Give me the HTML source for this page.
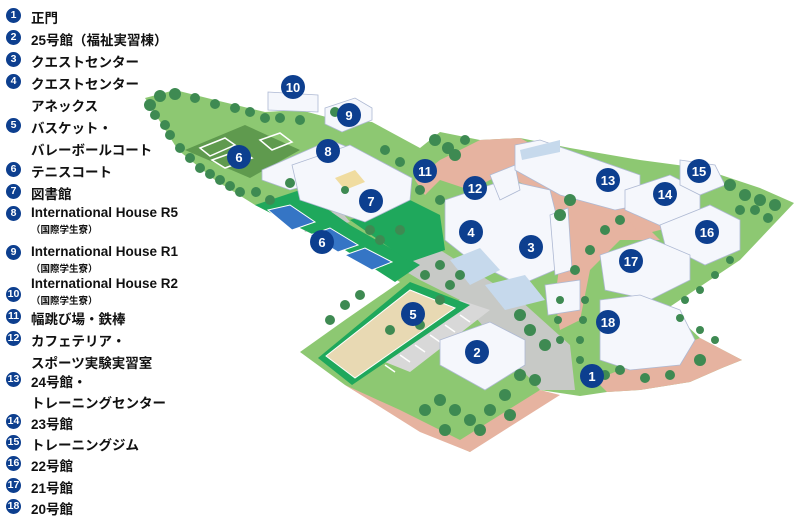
<!DOCTYPE html>
<html><head><meta charset="utf-8">
<style>
body{margin:0;width:794px;height:515px;background:#fff;overflow:hidden;position:relative;font-family:"Liberation Sans","Noto Sans CJK JP",sans-serif;}
.it{position:absolute;left:0;font-weight:bold;font-size:13.5px;color:#111;white-space:nowrap}
.n{position:absolute;left:6px;top:1px;width:15px;height:15px;border-radius:50%;background:#0d3f8f;color:#fff;font-size:10.5px;line-height:15px;text-align:center;font-weight:bold}
.t{position:absolute;left:31px}
.s{position:absolute;left:31px;font-size:9.5px}
svg{position:absolute;left:0;top:0}
</style></head><body>
<svg width="794" height="515" viewBox="0 0 794 515">
<polygon fill="#8dc872" points="145,98 175,90 215,100 265,112 300,110 330,118 372,122 420,148 440,132 480,140 520,138 570,148 640,160 700,168 760,188 794,203 740,260 668,308 700,338 742,360 722,368 690,382 640,390 607,392 580,396 540,390 470,452 420,430 345,385 300,352 345,320 400,282 345,250 300,228 255,205 215,180 178,150"/>
<polygon fill="#e6b3a0" points="480,140 520,138 580,170 620,200 660,240 620,240 590,270 580,320 560,330 555,300 560,260 540,190 500,175 470,190 440,180 425,195 415,180 440,160"/>
<polygon fill="#e6b3a0" points="610,195 650,205 680,225 640,235"/>
<polygon fill="#e6b3a0" points="345,385 400,410 460,440 540,390 560,395 470,452 420,432"/>
<polygon fill="#e6b3a0" points="595,380 700,338 742,360 722,368 690,382 640,390 607,392"/>
<polygon fill="#c7c9c6" points="395,265 440,250 520,300 570,345 575,390 540,390 500,345 460,300 420,280"/>
<polygon fill="#c7c9c6" points="300,218 340,210 350,222 305,232"/>
<polygon fill="#d8d8d8" points="380,360 460,300 490,310 410,372"/>
<polygon fill="#1fa85c" points="255,205 300,190 350,225 420,265 395,282 345,250 300,228"/>
<polygon fill="#1fa85c" points="350,220 410,200 440,215 445,250 410,262"/>
<polygon fill="#5f9a4e" points="185,150 245,125 300,150 250,178"/>
<g stroke="#fff" stroke-width="1.5" fill="none">
<polygon points="200,148 225,138 235,145 210,156"/><polygon points="212,160 240,150 252,158 225,168"/><polygon points="260,140 280,133 292,142 272,150"/>
</g>
<g fill="#3575c5" stroke="#fff" stroke-width="1">
<polygon points="268,210 290,205 315,222 292,230"/><polygon points="310,235 330,228 358,245 338,252"/><polygon points="345,255 365,248 392,262 372,270"/>
</g>
<polygon fill="#1fa85c" points="318,358 410,282 470,305 352,385"/>
<polygon fill="#e8d9b3" stroke="#fff" points="326,356 410,290 455,308 355,378"/>
<g stroke="#fff" stroke-width="1.5"><line x1="385" y1="365" x2="395" y2="372"/><line x1="400" y1="355" x2="410" y2="362"/><line x1="415" y1="345" x2="425" y2="352"/><line x1="430" y1="335" x2="440" y2="342"/><line x1="445" y1="325" x2="455" y2="332"/><line x1="460" y1="315" x2="470" y2="322"/></g>
<g fill="#f5f7fc" stroke="#aeb9d3" stroke-width="0.8">
<polygon points="268,92 318,95 318,112 268,110"/>
<polygon points="325,108 355,98 372,108 372,120 342,132 325,124"/>
<polygon points="262,170 330,140 355,150 345,175 290,190 262,180"/>
<polygon points="292,165 350,145 412,178 410,200 365,222 300,200"/>
<polygon points="445,200 505,180 550,190 565,250 555,270 520,285 470,260 445,240"/>
<polygon points="550,215 568,208 572,270 555,275"/>
<polygon points="490,175 515,165 520,190 500,200"/>
<polygon points="515,145 540,140 640,175 640,205 615,210 560,195 515,170"/>
<polygon points="625,190 670,175 700,190 700,220 670,230 625,210"/>
<polygon points="680,160 715,165 725,185 700,195 680,185"/>
<polygon points="660,225 710,205 740,220 740,250 705,265 665,245"/>
<polygon points="600,255 650,238 690,255 690,280 650,300 605,290"/>
<polygon points="600,300 640,295 680,310 695,340 680,365 630,370 600,360"/>
<polygon points="545,285 580,280 580,310 548,315"/>
<polygon points="440,340 490,322 525,340 525,365 485,390 440,365"/>
</g>
<g fill="#c6d9ec"><polygon points="450,260 480,248 500,270 470,285"/><polygon points="485,285 525,275 545,300 505,310"/><polygon points="520,150 560,140 560,152 522,160"/></g>
<polygon fill="#f0dca0" points="335,178 355,170 365,182 345,190"/>
<g fill="#3e8a52">
<circle cx="150" cy="105" r="6"/><circle cx="160" cy="96" r="6"/><circle cx="175" cy="94" r="6"/><circle cx="195" cy="98" r="5"/><circle cx="215" cy="104" r="5"/><circle cx="235" cy="108" r="5"/><circle cx="165" cy="125" r="5"/><circle cx="180" cy="148" r="5"/><circle cx="200" cy="168" r="5"/><circle cx="220" cy="180" r="5"/><circle cx="240" cy="192" r="5"/><circle cx="256" cy="192" r="5"/><circle cx="270" cy="200" r="5"/><circle cx="290" cy="183" r="5"/>
<circle cx="155" cy="115" r="5"/><circle cx="170" cy="135" r="5"/><circle cx="190" cy="158" r="5"/><circle cx="210" cy="174" r="5"/><circle cx="230" cy="186" r="5"/><circle cx="250" cy="112" r="5"/><circle cx="265" cy="118" r="5"/><circle cx="280" cy="118" r="5"/><circle cx="300" cy="120" r="5"/><circle cx="345" cy="190" r="4"/><circle cx="370" cy="230" r="5"/><circle cx="380" cy="240" r="5"/><circle cx="400" cy="230" r="5"/>
<circle cx="335" cy="112" r="5"/><circle cx="385" cy="150" r="5"/><circle cx="400" cy="162" r="5"/><circle cx="435" cy="140" r="6"/><circle cx="448" cy="148" r="6"/><circle cx="465" cy="140" r="5"/><circle cx="440" cy="200" r="5"/><circle cx="455" cy="155" r="6"/><circle cx="420" cy="190" r="5"/>
<circle cx="570" cy="200" r="6"/><circle cx="560" cy="215" r="6"/><circle cx="620" cy="220" r="5"/><circle cx="605" cy="230" r="5"/><circle cx="575" cy="270" r="5"/><circle cx="590" cy="250" r="5"/>
<circle cx="730" cy="185" r="6"/><circle cx="745" cy="195" r="6"/><circle cx="760" cy="200" r="6"/><circle cx="775" cy="205" r="6"/><circle cx="740" cy="210" r="5"/><circle cx="730" cy="260" r="4"/><circle cx="715" cy="275" r="4"/><circle cx="700" cy="290" r="4"/><circle cx="685" cy="300" r="4"/><circle cx="680" cy="318" r="4"/><circle cx="700" cy="330" r="4"/><circle cx="715" cy="340" r="4"/><circle cx="755" cy="210" r="5"/><circle cx="768" cy="218" r="5"/>
<circle cx="585" cy="300" r="4"/><circle cx="583" cy="320" r="4"/><circle cx="580" cy="340" r="4"/><circle cx="580" cy="360" r="4"/><circle cx="560" cy="300" r="4"/><circle cx="558" cy="320" r="4"/><circle cx="560" cy="340" r="4"/>
<circle cx="530" cy="330" r="6"/><circle cx="545" cy="345" r="6"/><circle cx="520" cy="375" r="6"/><circle cx="505" cy="395" r="6"/><circle cx="490" cy="410" r="6"/><circle cx="470" cy="420" r="6"/><circle cx="455" cy="410" r="6"/><circle cx="440" cy="400" r="6"/><circle cx="425" cy="410" r="6"/><circle cx="445" cy="430" r="6"/><circle cx="535" cy="380" r="6"/><circle cx="510" cy="415" r="6"/><circle cx="480" cy="430" r="6"/><circle cx="520" cy="315" r="6"/>
<circle cx="330" cy="320" r="5"/><circle cx="345" cy="305" r="5"/><circle cx="360" cy="295" r="5"/><circle cx="390" cy="330" r="5"/><circle cx="420" cy="325" r="5"/><circle cx="440" cy="300" r="5"/><circle cx="425" cy="275" r="5"/><circle cx="450" cy="285" r="5"/><circle cx="440" cy="265" r="5"/><circle cx="460" cy="275" r="5"/>
<circle cx="620" cy="370" r="5"/><circle cx="645" cy="378" r="5"/><circle cx="670" cy="375" r="5"/><circle cx="700" cy="360" r="6"/><circle cx="605" cy="375" r="5"/>
</g>
<g fill="#0d3f8f"><circle cx="293" cy="87" r="12"/><circle cx="349" cy="115" r="12"/><circle cx="328" cy="151" r="12"/><circle cx="239" cy="157" r="12"/><circle cx="371" cy="201" r="12"/><circle cx="425" cy="171" r="12"/><circle cx="475" cy="188" r="12"/><circle cx="608" cy="180" r="12"/><circle cx="665" cy="194" r="12"/><circle cx="699" cy="171" r="12"/><circle cx="707" cy="232" r="12"/><circle cx="631" cy="261" r="12"/><circle cx="471" cy="232" r="12"/><circle cx="531" cy="247" r="12"/><circle cx="322" cy="242" r="12"/><circle cx="413" cy="314" r="12"/><circle cx="477" cy="352" r="12"/><circle cx="608" cy="322" r="12"/><circle cx="592" cy="376" r="12"/></g>
<g fill="#fff" font-family="Liberation Sans, sans-serif" font-weight="bold" font-size="13" text-anchor="middle">
<text x="293" y="92">10</text><text x="349" y="120">9</text><text x="328" y="156">8</text><text x="239" y="162">6</text><text x="371" y="206">7</text><text x="425" y="176">11</text><text x="475" y="193">12</text><text x="608" y="185">13</text><text x="665" y="199">14</text><text x="699" y="176">15</text><text x="707" y="237">16</text><text x="631" y="266">17</text><text x="471" y="237">4</text><text x="531" y="252">3</text><text x="322" y="247">6</text><text x="413" y="319">5</text><text x="477" y="357">2</text><text x="608" y="327">18</text><text x="592" y="381">1</text></g>
</svg>
<div class="it" style="top:7px"><span class="n">1</span><span class="t">正門</span></div>
<div class="it" style="top:29px"><span class="n">2</span><span class="t">25号館（福祉実習棟）</span></div>
<div class="it" style="top:51px"><span class="n">3</span><span class="t">クエストセンター</span></div>
<div class="it" style="top:73px"><span class="n">4</span><span class="t">クエストセンター</span></div>
<div class="it" style="top:95px"><span class="t">アネックス</span></div>
<div class="it" style="top:117px"><span class="n">5</span><span class="t">バスケット・</span></div>
<div class="it" style="top:139px"><span class="t">バレーボールコート</span></div>
<div class="it" style="top:161px"><span class="n">6</span><span class="t">テニスコート</span></div>
<div class="it" style="top:183px"><span class="n">7</span><span class="t">図書館</span></div>
<div class="it" style="top:205px"><span class="n">8</span><span class="t">International House R5</span><span class="s" style="top:17px">（国際学生寮）</span></div>
<div class="it" style="top:244px"><span class="n">9</span><span class="t">International House R1</span><span class="s" style="top:17px">（国際学生寮）</span></div>
<div class="it" style="top:276px"><span class="n" style="top:11px">10</span><span class="t">International House R2</span><span class="s" style="top:17px">（国際学生寮）</span></div>
<div class="it" style="top:308px"><span class="n">11</span><span class="t">幅跳び場・鉄棒</span></div>
<div class="it" style="top:330px"><span class="n">12</span><span class="t">カフェテリア・</span></div>
<div class="it" style="top:352px"><span class="t">スポーツ実験実習室</span></div>
<div class="it" style="top:371px"><span class="n">13</span><span class="t">24号館・</span></div>
<div class="it" style="top:392px"><span class="t">トレーニングセンター</span></div>
<div class="it" style="top:413px"><span class="n">14</span><span class="t">23号館</span></div>
<div class="it" style="top:434px"><span class="n">15</span><span class="t">トレーニングジム</span></div>
<div class="it" style="top:455px"><span class="n">16</span><span class="t">22号館</span></div>
<div class="it" style="top:477px"><span class="n">17</span><span class="t">21号館</span></div>
<div class="it" style="top:498px"><span class="n">18</span><span class="t">20号館</span></div>
</body></html>
